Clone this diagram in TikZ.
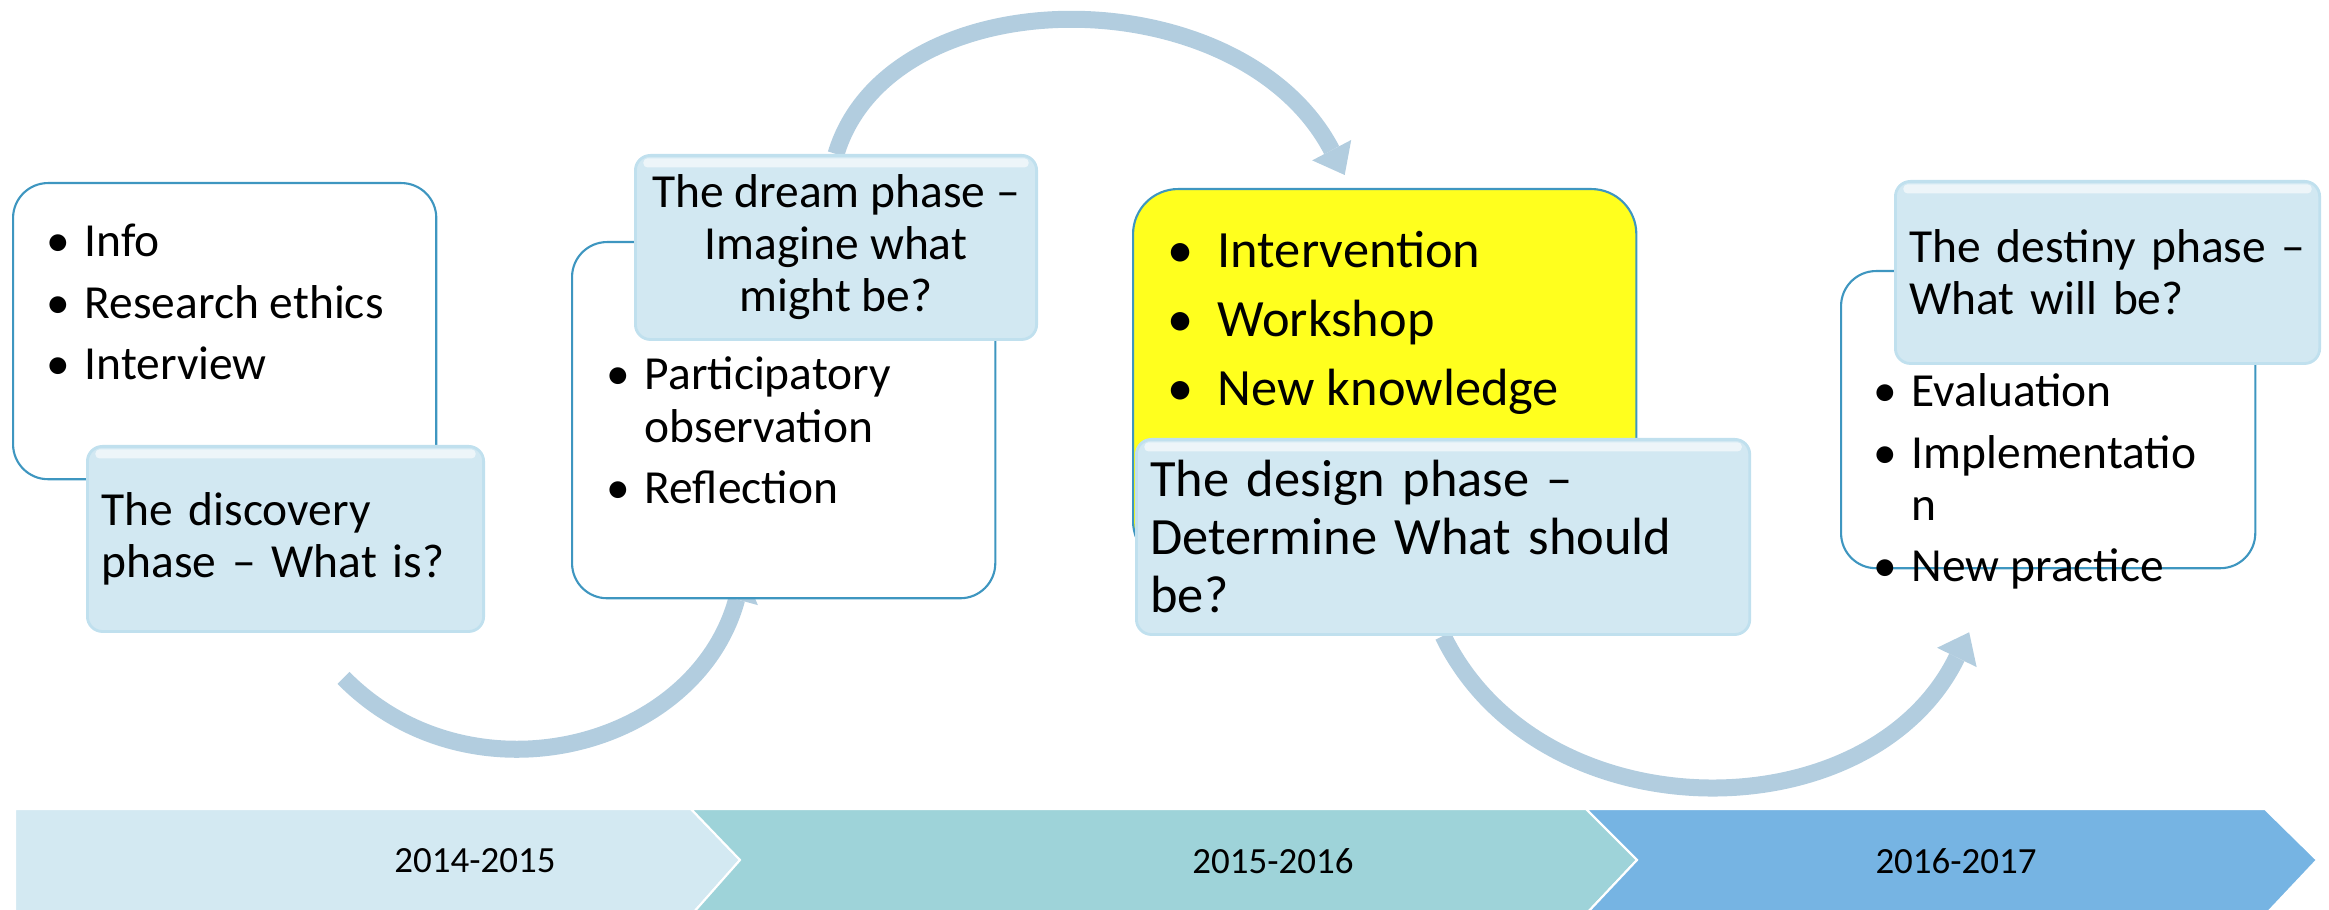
\documentclass[tikz,border=0pt]{standalone}
\usepackage{fontspec}
\setmainfont{Carlito}
\usepackage{xcolor}
\usetikzlibrary{arrows.meta, positioning, backgrounds}
\definecolor{boxEdge}{RGB}{62,150,192}
\definecolor{titleFill}{RGB}{210,232,242}
\definecolor{titleEdge}{RGB}{192,224,238}
\definecolor{designYellow}{RGB}{255,255,30}
\definecolor{arrowBlue}{RGB}{178,205,223}
\definecolor{bandOne}{RGB}{211,233,242}
\definecolor{bandTwo}{RGB}{158,211,217}
\definecolor{bandThree}{RGB}{118,180,227}
\newcommand{\phasefont}{\fontsize{13.5pt}{14.8pt}\selectfont}
\newcommand{\designfont}{\fontsize{14.9pt}{16.5pt}\selectfont}
\newcommand{\bul}[1]{\makebox[#1][l]{\textbullet}}
\tikzset{
    phasebox/.style={
        rectangle,
        draw=boxEdge,
        line width=0.6pt,
        rounded corners=0.35cm,
        fill=white,
        anchor=north west,
        inner sep=0pt
    },
    yellowbox/.style={
        phasebox,
        fill=designYellow,
        rounded corners=0.45cm
    },
    titlebox/.style={
        rectangle,
        draw=titleEdge,
        line width=0.8pt,
        fill=titleFill,
        rounded corners=0.15cm,
        anchor=north west,
        inner sep=0pt,
        align=left,
        font=\phasefont,
        path picture={\fill[white, opacity=0.6, rounded corners=0.04cm]
            ([xshift=0.08cm, yshift=-0.03cm]path picture bounding box.north west) rectangle
            ([xshift=-0.08cm, yshift=-0.12cm]path picture bounding box.north east);}
    },
    listtext/.style={anchor=base west, inner sep=0pt, font=\phasefont},
    yeartext/.style={font=\fontsize{10.5pt}{12pt}\selectfont},
    cyclearrow/.style={-{Triangle[width=0.44cm, length=0.28cm, line width=0pt]}, line width=0.17cm, draw=arrowBlue},
    band/.style={draw=white, line width=0.6pt}
}

\begin{document}
\begin{tikzpicture}[x=0.01cm, y=-0.01cm]
    \useasboundingbox (0,0) rectangle (2329,910);
    % timeline
    \path[band, fill=bandOne] (15,809) -- (691,809) -- (740,860) -- (694,912) -- (15,912) -- cycle;
    \path[band, fill=bandTwo] (691,809) -- (1586,809) -- (1637,860) -- (1588,912) -- (694,912) -- (740,860) -- cycle;
    \path[band, fill=bandThree] (1586,809) -- (2265,809) -- (2317,860) -- (2268,912) -- (1588,912) -- (1637,860) -- cycle;
    \node[yeartext] (yearone) at (475,861) {2014-2015};
    \node[yeartext] (yeartwo) at (1273,861) {2015-2016};
    \node[yeartext] (yearthree) at (1956,861) {2016-2017};

    % phases
    \node[phasebox, minimum width=4.23cm, minimum height=2.96cm] (discbox) at (12,182) {};
    \node[titlebox, minimum width=3.96cm, minimum height=1.85cm, text width=3.68cm] (disctitle) at (86,445) {The discovery\\phase – What is?};
    \node[listtext] (disclist) at (46,257) {\begin{tabular}[t]{@{}l@{}}
        \bul{0.38cm}Info\\[0.09cm]
        \bul{0.38cm}Research ethics\\[0.09cm]
        \bul{0.38cm}Interview
    \end{tabular}};

    \node[phasebox, minimum width=4.23cm, minimum height=3.56cm] (dreambox) at (571,241) {};
    \node[titlebox, align=center, minimum width=4.01cm, minimum height=1.84cm] (dreamtitle) at (634,154) {The dream phase –\\Imagine what\\might be?};
    \node[listtext] (dreamlist) at (606,390) {\begin{tabular}[t]{@{}l@{}}
        \bul{0.38cm}Participatory\\
        \hspace{0.38cm}observation\\[0.09cm]
        \bul{0.38cm}Reflection
    \end{tabular}};

    \node[yellowbox, minimum width=5.03cm, minimum height=3.77cm] (designbox) at (1132,188) {};
    \node[listtext, font=\designfont] (designlist) at (1167,268) {\begin{tabular}[t]{@{}l@{}}
        \bul{0.5cm}Intervention\\[0.105cm]
        \bul{0.5cm}Workshop\\[0.105cm]
        \bul{0.5cm}New knowledge
    \end{tabular}};
    \node[titlebox, font=\designfont, minimum width=6.13cm, minimum height=1.95cm, text width=5.85cm] (designtitle) at (1135,438) {The design phase –\\Determine What should\\be?};

    \node[phasebox, minimum width=4.14cm, minimum height=2.97cm] (destbox) at (1840,270) {};
    \node[titlebox, minimum width=4.24cm, minimum height=1.82cm, text width=3.96cm] (desttitle) at (1894,180) {The destiny phase –\\What will be?};
    \node[listtext] (destlist) at (1873,407) {\begin{tabular}[t]{@{}l@{}}
        \bul{0.38cm}Evaluation\\[0.09cm]
        \bul{0.38cm}Implementatio\\
        \hspace{0.38cm}n\\[0.09cm]
        \bul{0.38cm}New practice
    \end{tabular}};

    % cycle arrows behind the boxes
    \begin{scope}[on background layer]
        \draw[cyclearrow] ([shift={(58,45)}]disctitle.south) .. controls (471,807) and (696,749) .. ([shift={(173,-27)}]dreambox.south west);
        \draw[cyclearrow] (dreamtitle.north) .. controls (890,-25) and (1240,-25) .. ([shift={(-40,-13)}]designbox.north);
        \draw[cyclearrow] (designtitle.south) .. controls (1540,835) and (1870,835) .. ([shift={(-79,63)}]destbox.south);
    \end{scope}
\end{tikzpicture}
\end{document}
